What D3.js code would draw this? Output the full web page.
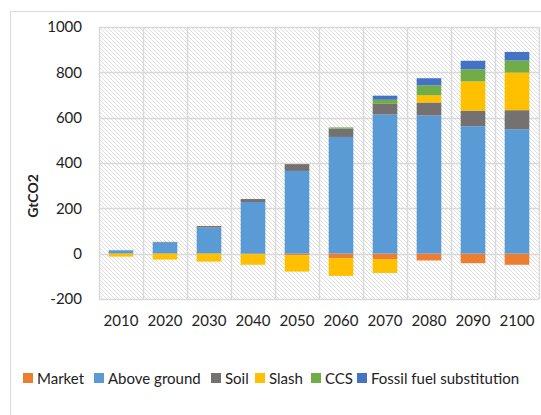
<!DOCTYPE html>
<html>
<head>
<meta charset="utf-8">
<script src="https://cdnjs.cloudflare.com/ajax/libs/d3/7.8.5/d3.min.js"></script>
<style>
  body { margin: 0; background: #fff; }
  text { font-family: Lato, "Open Sans", sans-serif; fill: #222; }
</style>
</head>
<body>
<div id="chart"></div>
<script>
var years = ['2010', '2020', '2030', '2040', '2050', '2060', '2070', '2080', '2090', '2100'];
var seriesNames = ['Market', 'Above ground', 'Soil', 'Slash', 'CCS', 'Fossil fuel substitution'];
var market      = [0, 0, 0, -2, -7, -20, -24, -30, -42, -49];
var aboveGround = [15, 49, 115, 228, 365, 515, 614, 610, 562, 549];
var soil        = [0, 3, 7, 13, 30, 37, 47, 57, 69, 84];
var slash       = [-13, -26, -35, -47, -72, -78, -61, 32, 129, 166];
var ccs         = [0, 0, 0, 0, 0, 5, 18, 44, 53, 53];
var fossil      = [0, 0, 0, 0, 0, 0, 18, 31, 38, 38];
var yTicks = [-200, 0, 200, 400, 600, 800, 1000];
var colors = ['#ED7D31', '#5B9BD5', '#767171', '#FFC000', '#70AD47', '#4472C4'];

var width = 541,
    height = 415,
    margin = {top: 27, right: 2, bottom: 116, left: 99};

var rows = years.map(function(y, i) {
  return {year: y, 'Market': market[i], 'Above ground': aboveGround[i], 'Soil': soil[i],
    'Slash': slash[i], 'CCS': ccs[i], 'Fossil fuel substitution': fossil[i]};
});

var svg = d3.select('#chart').append('svg')
  .attr('width', width)
  .attr('height', height);

// hatch pattern for the plot background
var defs = svg.append('defs');
var pat = defs.append('pattern')
  .attr('id', 'hatch')
  .attr('patternUnits', 'userSpaceOnUse')
  .attr('width', 4).attr('height', 4);
pat.append('rect').attr('width', 4).attr('height', 4).attr('fill', '#fff');
pat.append('path')
  .attr('d', 'M-1,-1 L5,5 M-1,3 L1,5 M3,-1 L5,1')
  .attr('stroke', '#dadada').attr('stroke-width', 0.9);

// chart area border
svg.append('rect')
  .attr('x', 10.5).attr('y', 11.5)
  .attr('width', 545).attr('height', 420)
  .attr('fill', 'none').attr('stroke', '#d9d9d9');

var x = d3.scaleBand()
  .domain(years)
  .range([margin.left, width - margin.right])
  .paddingInner(0.44).paddingOuter(0.22);

var y = d3.scaleLinear()
  .domain([-200, 1000])
  .range([height - margin.bottom, margin.top]);

var g = svg.append('g');

g.append('rect')
  .attr('x', margin.left).attr('y', y(1000))
  .attr('width', width - margin.right - margin.left)
  .attr('height', y(-200) - y(1000))
  .attr('fill', 'url(#hatch)');

// horizontal grid
g.selectAll('.hgrid').data(yTicks).enter().append('line')
  .attr('x1', margin.left).attr('x2', width - margin.right)
  .attr('y1', function(d) { return Math.round(y(d)) + 0.5; })
  .attr('y2', function(d) { return Math.round(y(d)) + 0.5; })
  .attr('stroke', '#d9d9d9').attr('stroke-width', 1.5);

// vertical grid at category boundaries
var step = x.step();
var bounds = d3.range(years.length + 1).map(function(i) { return margin.left + i * step; });
g.selectAll('.vgrid').data(bounds).enter().append('line')
  .attr('x1', function(d) { return Math.round(d) + 0.5; })
  .attr('x2', function(d) { return Math.round(d) + 0.5; })
  .attr('y1', y(1000)).attr('y2', y(-200))
  .attr('stroke', '#d9d9d9').attr('stroke-width', 1.5);

var stack = d3.stack()
  .keys(seriesNames)
  .offset(d3.stackOffsetDiverging);

var layers = g.selectAll('.layer')
  .data(stack(rows))
  .enter().append('g')
  .attr('fill', function(d, i) { return colors[i]; });

layers.selectAll('rect')
  .data(function(d) { return d; })
  .enter().append('rect')
  .attr('x', function(d) { return x(d.data.year); })
  .attr('width', x.bandwidth())
  .attr('y', function(d) { return y(Math.max(d[0], d[1])); })
  .attr('height', function(d) { return Math.abs(y(d[0]) - y(d[1])); });

// y axis labels
var yAxis = d3.axisLeft(y).tickValues(yTicks).tickSize(0).tickPadding(17)
  .tickFormat(function(d) { return String(d); });
var ya = svg.append('g').attr('transform', 'translate(' + margin.left + ',0)').call(yAxis);
ya.select('.domain').remove();
ya.selectAll('text').attr('font-size', 15).attr('font-family', 'Lato, sans-serif').attr('fill', '#222');

// x axis labels
var xAxis = d3.axisBottom(x).tickSize(0).tickPadding(16);
var xa = svg.append('g').attr('transform', 'translate(0,' + y(-200) + ')').call(xAxis);
xa.select('.domain').remove();
xa.selectAll('text').attr('font-size', 15).attr('font-family', 'Lato, sans-serif').attr('fill', '#222');

// axis title
svg.append('text')
  .attr('transform', 'translate(38,196) rotate(-90)')
  .attr('text-anchor', 'middle')
  .attr('font-size', 14)
  .attr('font-weight', 'bold')
  .text('GtCO2');

// legend
var legendX = [23, 94, 211, 255, 311, 357];
var legend = svg.selectAll('.legend')
  .data(seriesNames)
  .enter().append('g')
  .attr('transform', function(d, i) { return 'translate(' + legendX[i] + ',373)'; });
legend.append('rect')
  .attr('width', 10).attr('height', 10)
  .attr('fill', function(d, i) { return colors[i]; });
legend.append('text')
  .attr('x', 14).attr('y', 10.5)
  .attr('font-size', 15)
  .text(function(d) { return d; });
</script>
</body>
</html>
